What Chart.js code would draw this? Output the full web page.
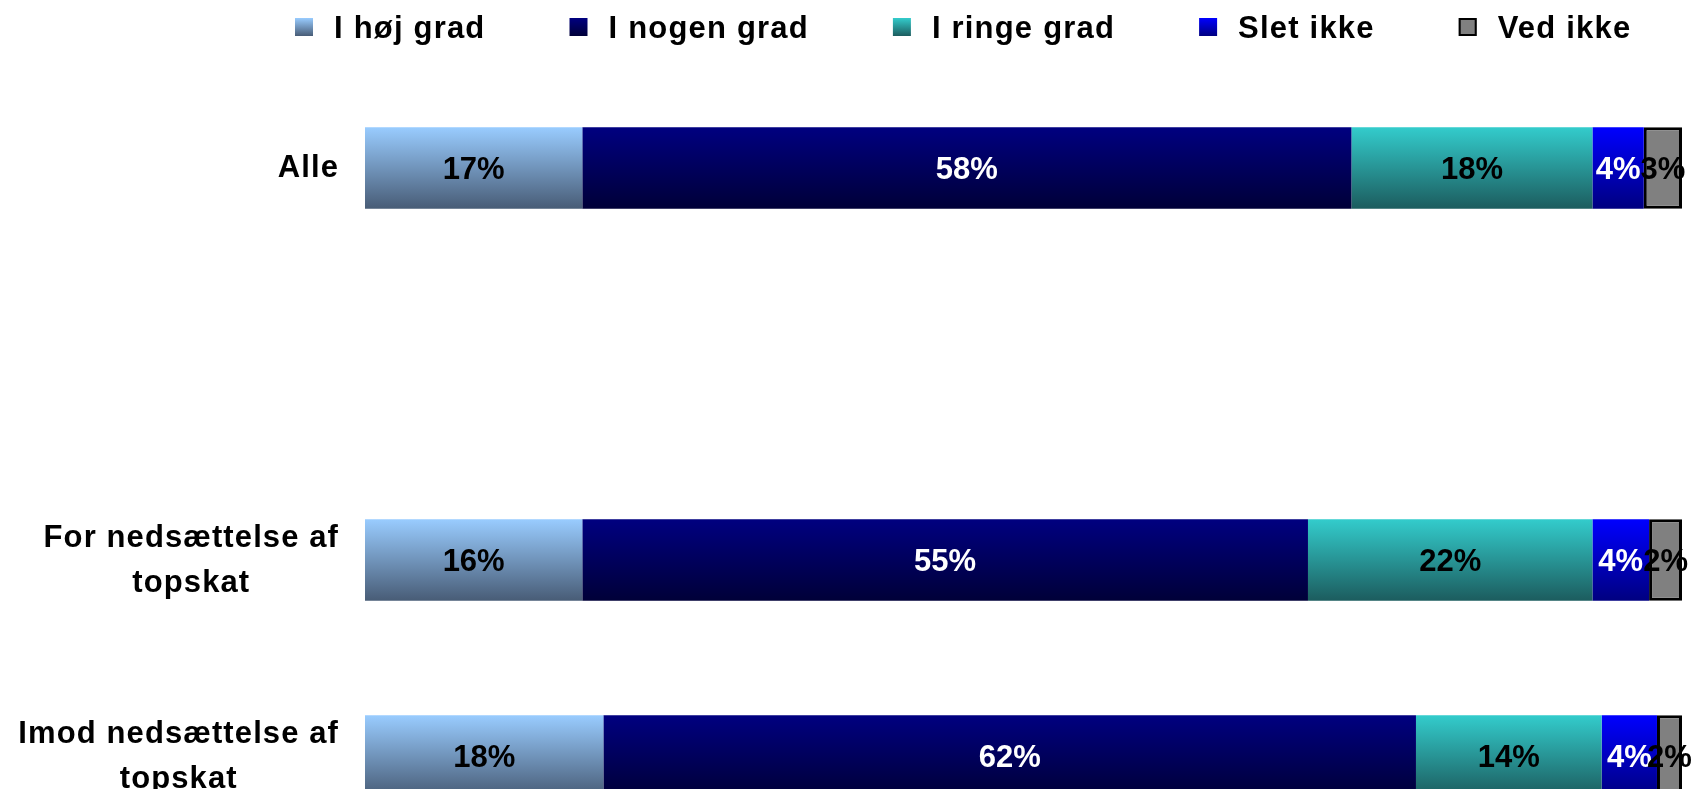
<!DOCTYPE html>
<html>
<head>
<meta charset="utf-8">
<title>Topskat</title>
<script src="https://cdn.jsdelivr.net/npm/chart.js@4.4.1/dist/chart.umd.min.js"></script>
<style>
    html, body { margin: 0; padding: 0; background: #fff; overflow: hidden; }
    #wrap { position: relative; width: 1695px; height: 854px; }
</style>
</head>
<body>
<div id="wrap"><canvas id="topskatChart"></canvas></div>
<script>
// rows, top to bottom (the second row is an empty spacer row)
const categories = [['Alle'], [], ['For nedsættelse af', 'topskat'], ['Imod nedsættelse af', 'topskat']];
const seriesNames = ['I høj grad', 'I nogen grad', 'I ringe grad', 'Slet ikke', 'Ved ikke'];

// segment widths (each row adds up to 100)
const hojGrad   = [16.5, null, 16.5, 18.1];
const nogenGrad = [58.4, null, 55.1, 61.7];
const ringeGrad = [18.3, null, 21.6, 14.1];
const sletIkke  = [3.9,  null, 4.3,  4.2];
const vedIkke   = [2.9,  null, 2.5,  1.9];

// percentages printed on the bars
const hojGradTxt   = ['17%', null, '16%', '18%'];
const nogenGradTxt = ['58%', null, '55%', '62%'];
const ringeGradTxt = ['18%', null, '22%', '14%'];
const sletIkkeTxt  = ['4%',  null, '4%',  '4%'];
const vedIkkeTxt   = ['3%',  null, '2%',  '2%'];

const BAR_PCT = 0.416;
const FONT = '"Liberation Sans", Arial, Helvetica, sans-serif';

function barFill(top, bottom) {
    return function(context) {
        const chart = context.chart;
        const yScale = chart.scales.y;
        if (!chart.chartArea || !yScale || context.dataIndex === undefined) return top;
        const mid = yScale.getPixelForValue(context.dataIndex);
        const half = (yScale.getPixelForValue(1) - yScale.getPixelForValue(0)) * BAR_PCT / 2;
        const g = chart.ctx.createLinearGradient(0, mid - half, 0, mid + half);
        g.addColorStop(0, top);
        g.addColorStop(1, bottom);
        return g;
    };
}

const seriesStyle = [
    { data: hojGrad,   txt: hojGradTxt,   top: '#99CCFF', bottom: '#485C76', label: '#000' },
    { data: nogenGrad, txt: nogenGradTxt, top: '#000080', bottom: '#000038', label: '#fff' },
    { data: ringeGrad, txt: ringeGradTxt, top: '#33CCCC', bottom: '#1C5C5E', label: '#000' },
    { data: sletIkke,  txt: sletIkkeTxt,  top: '#0000FF', bottom: '#000080', label: '#fff' },
    { data: vedIkke,   txt: vedIkkeTxt,   top: '#808080', bottom: '#808080', label: '#000' }
];

const datasets = seriesStyle.map((s, i) => ({
    label: seriesNames[i],
    data: s.data,
    valueLabels: s.txt,
    labelColor: s.label,
    legendTop: s.top,
    legendBottom: s.bottom,
    backgroundColor: i === 4 ? s.top : barFill(s.top, s.bottom),
    borderColor: '#000',
    borderWidth: i === 4 ? 3 : 0,
    borderSkipped: false,
    barPercentage: 1,
    categoryPercentage: BAR_PCT
}));

const textPlugin = {
    id: 'topskatTexts',
    afterDatasetsDraw(chart) {
        const ctx = chart.ctx;
        const yScale = chart.scales.y;
        const area = chart.chartArea;

        // values inside the segments
        ctx.save();
        ctx.letterSpacing = '0px';
        ctx.font = 'bold 31px ' + FONT;
        ctx.textAlign = 'center';
        ctx.textBaseline = 'alphabetic';
        chart.data.datasets.forEach((ds, i) => {
            chart.getDatasetMeta(i).data.forEach((bar, j) => {
                const txt = ds.valueLabels[j];
                if (!txt) return;
                const p = bar.getProps(['x', 'y', 'base'], true);
                ctx.fillStyle = ds.labelColor;
                ctx.fillText(txt, (p.x + p.base) / 2, p.y + 11);
            });
        });
        ctx.restore();

        // row labels, block right aligned, lines centred
        ctx.save();
        ctx.letterSpacing = '1.1px';
        ctx.font = 'bold 31px ' + FONT;
        ctx.textAlign = 'center';
        ctx.textBaseline = 'alphabetic';
        ctx.fillStyle = '#000';
        categories.forEach((lines, i) => {
            if (!lines.length) return;
            const mid = yScale.getPixelForValue(i);
            const w = Math.max(...lines.map(l => ctx.measureText(l).width));
            const cx = area.left - 26 - w / 2;
            lines.forEach((l, k) => {
                ctx.fillText(l, cx, mid + 9 + (k - (lines.length - 1) / 2) * 45);
            });
        });
        ctx.restore();

        // legend across the top
        ctx.save();
        ctx.letterSpacing = '1.2px';
        ctx.font = 'bold 31px ' + FONT;
        ctx.textAlign = 'left';
        ctx.textBaseline = 'alphabetic';
        let x = 295;
        chart.data.datasets.forEach((ds) => {
            const g = ctx.createLinearGradient(0, 18, 0, 36);
            g.addColorStop(0, ds.legendTop);
            g.addColorStop(1, ds.legendBottom);
            ctx.fillStyle = g;
            ctx.fillRect(x, 18, 18, 18);
            if (ds.borderWidth) {
                ctx.lineWidth = 2;
                ctx.strokeStyle = '#000';
                ctx.strokeRect(x + 1, 19, 16, 16);
            }
            ctx.fillStyle = '#000';
            ctx.fillText(ds.label, x + 39, 38);
            x += 39 + ctx.measureText(ds.label).width + 84;
        });
        ctx.restore();
    }
};

new Chart(document.getElementById('topskatChart').getContext('2d'), {
    type: 'bar',
    data: { labels: categories, datasets: datasets },
    plugins: [textPlugin],
    options: {
        indexAxis: 'y',
        responsive: true,
        maintainAspectRatio: false,
        animation: false,
        layout: { padding: { top: 70, left: 365, right: 13, bottom: 0 } },
        plugins: {
            legend: { display: false },
            tooltip: { enabled: false }
        },
        scales: {
            x: { stacked: true, min: 0, max: 100, display: false },
            y: { stacked: true, display: false }
        }
    }
});
</script>
</body>
</html>
